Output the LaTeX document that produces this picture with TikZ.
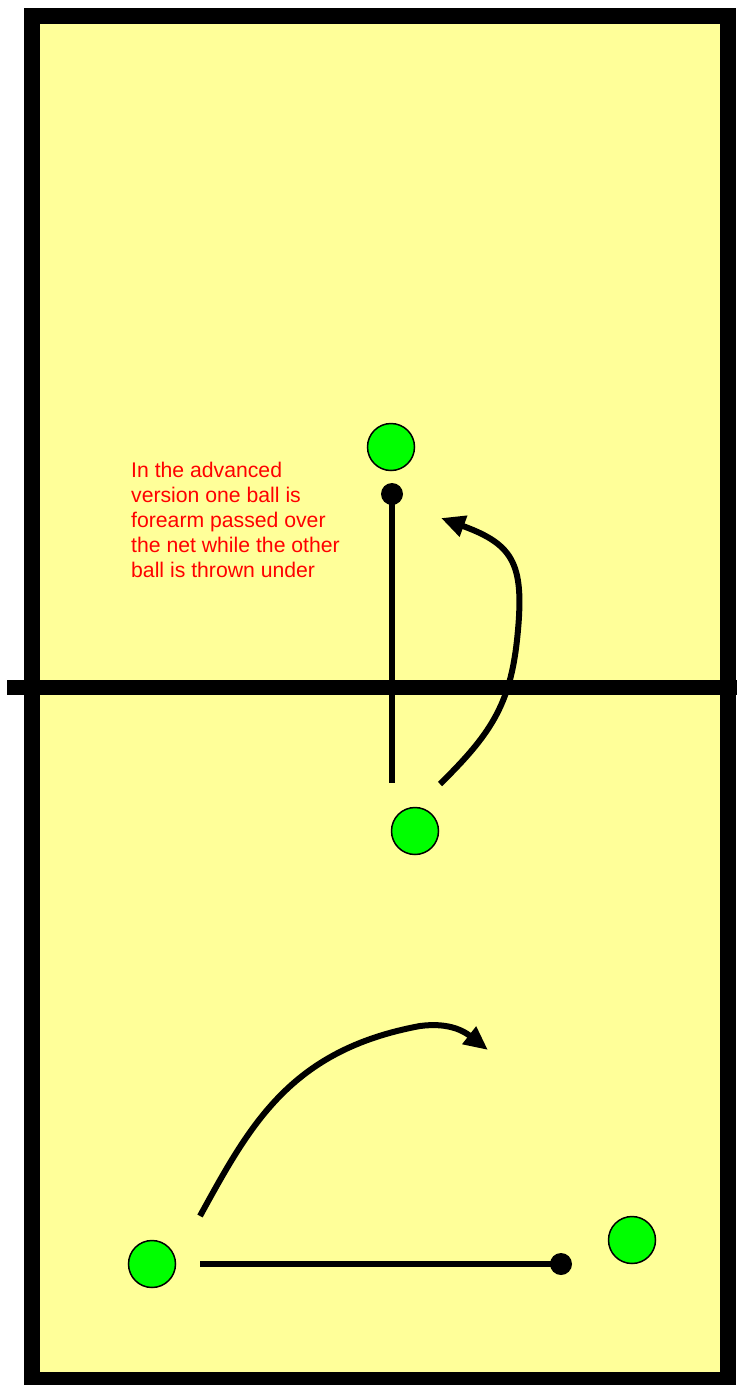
\documentclass[tikz,border=0pt]{standalone}
\usepackage{fontspec}
\setmainfont{Liberation Sans}
\usetikzlibrary{arrows.meta}
\definecolor{court}{HTML}{FFFF99}
\definecolor{player}{HTML}{00FF00}
\definecolor{note}{HTML}{FF0000}
\tikzset{
  playerdot/.style={circle,draw=black,line width=1.5pt,fill=player,minimum size=47pt,inner sep=0pt},
  balldot/.style={circle,fill=black,minimum size=22pt,inner sep=0pt},
  path/.style={line width=6pt},
  arrowpath/.style={line width=6pt,-{Triangle[length=24pt,width=21pt]}},
}
\begin{document}
\begin{tikzpicture}[x=1pt,y=-1pt]
\useasboundingbox (0,0) rectangle (737,1385);
\fill[white] (0,0) rectangle (737,1385);
% court
\draw[line width=16pt,fill=court] (32,15.5) rectangle (727.5,1380);
% net
\draw[line width=15pt] (7,687) -- (737,687);
% players
\node[playerdot] (p1) at (391,447) {};
\node[playerdot] (p2) at (415,831) {};
\node[playerdot] (p3) at (152,1264) {};
\node[playerdot] (p4) at (632,1240) {};
% balls
\node[balldot] (b1) at (392,494) {};
\node[balldot] (b2) at (561,1264) {};
% straight paths
\coordinate (s1) at (392,783);
\draw[path] (b1.center) -- (s1);
\coordinate (s2) at (200,1264);
\draw[path] (s2) -- (b2.center);
% curved arrows
\coordinate (c1a) at (440,784);
\coordinate (c1m) at (517,640);
\coordinate (c1b) at (441,518);
\draw[arrowpath] (c1a) .. controls (490,735) and (510,705) .. (c1m)
  .. controls (525,565) and (515,545) .. (c1b);
\coordinate (c2a) at (200,1216);
\coordinate (c2m) at (420,1026);
\coordinate (c2b) at (488,1050);
\draw[arrowpath] (c2a) .. controls (250,1125) and (290,1050) .. (c2m)
  .. controls (450,1022) and (465,1032) .. (c2b);
% note
\node[anchor=north west,text=note,font=\fontsize{21.2pt}{25pt}\selectfont,align=left,inner sep=0pt] (txt) at (131,462)
  {In the advanced\\version one ball is\\forearm passed over\\the net while the other\\ball is thrown under};
\end{tikzpicture}
\end{document}
